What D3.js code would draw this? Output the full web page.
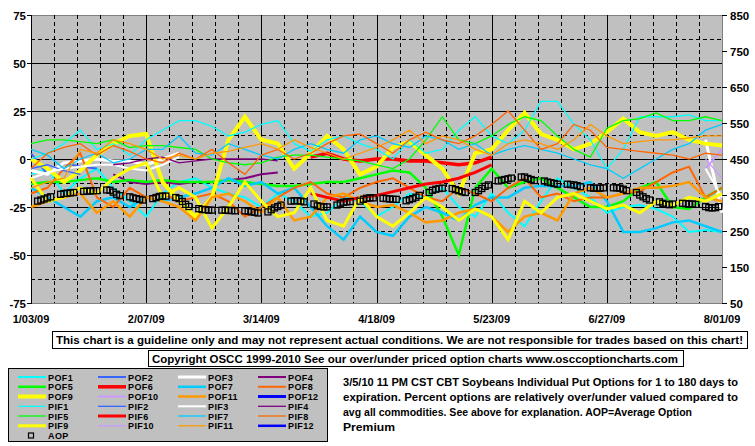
<!DOCTYPE html>
<html><head><meta charset="utf-8">
<script src="https://cdn.jsdelivr.net/npm/d3@7"></script>
<style>
body{margin:0;background:#fff}
svg{display:block}
text{font-family:"Liberation Sans",Arial,sans-serif;font-weight:bold;fill:#000}
</style>
</head><body>
<svg id="c" width="755" height="446"></svg>
<script>
// ---------- DATA ----------
const days = [0,5,10,15,20,25,30,35,40,45,50,55,60,65,70,75,80,85,90,95,100,105,110,115,120,125,130,135,140,145,150,155,160,165,170,175,180,185,190,195,200,205,210];
const xTickDays = [0,35,70,105,140,175,210];
const xTickLabels = ["1/03/09","2/07/09","3/14/09","4/18/09","5/23/09","6/27/09","8/01/09"];
const leftTicks = [75,50,25,0,-25,-50,-75];
const rightTicks = [850,750,650,550,450,350,250,150,50];
const N = null;

const POF1 = [-8,-5,-18,-10,-5,-15,-22,-30,-18,-12, -10,-15,-18,-20,-25,-18,-22,-30,-28,-20, -22,-30,-25,-18,-20,-15,-25,-30,-18,-28, -35,-22,-10,-15,-20,-28,-25,-24,-26,-30, -38,-37,-38];
const POF2 = [3,-8,-2,-4,-5];
const POF3 = [-6,-8,-2,-1,0,-1,-1,-3,0,3, N,N,N,N,N,N,N,N,N,N, N,N,N,N,N,N,N,N,N,N, N,N,N,N,N,N,N,N,N,N, N,10,-28];
const POF4 = [N,N,N,N,N,-8,-12,-13,-12,-13,-12,-12,-11,-10,-8,-7];
const POF5 = [-13,-12,-12,-11,-10,-12,-11,-12,-11,-12, -12,-12,-11,-12,-13,-14,-14,-13,-12,-12, -10,-8,-6,-7,-15,-30,-50,-15,-5,-15, -12,-10,-15,-20,-25,-25,-22,-15,-12,-25, -26,-20,-15];
const POF6 = [N,N,N,N,N,N,N,N,N,N, N,N,N,N,N,N,N,1,3,0, -1,0,0,-1,-1,-2,-3,-2,1];
const POF7 = [-15,-20,-25,-30,-22,-20,-25,-20,-22,-20, -18,-15,-10,-14,-12,-18,-15,-25,-35,-42, -30,-38,-40,-30,-25,-28,-32,-24,-20,-20, -15,-14,-14,-14,-12,-22,-38,-38,-36,-33, -32,-35,-38];
const POF8 = [-18,-15,-5,3,-20,-25,-15,-20,-18,-22, -20,-18,-22,-30,-25,-20,-15,-12,-18,-20, -15,-12,-10,-15,-20,-22,-15,-18,-22,-15, -10,-20,-18,-22,-20,-20,-18,-17,-12,-7, -4,-20,-15];
const POF9 = [0,-5,-12,-6,2,8,12,13,-12,-22, -30,-20,10,22,10,8,-5,3,12,5, -8,-4,6,9,2,-5,-18,3,5,15, 24,13,10,5,8,14,21,14,12,14, 10,8,7];
const POF10 = [N,N,N,N,N,N,N,N,N,N, N,N,N,N,N,N,N,N,N,N, N,N,N,N,N,N,N,N,N,N, N,N,N,N,N,N,N,N,N,N, N,-5,5];
const POF11 = [-25,-22,-20,-18,-28,-22,-30,-20,-22,-25, -32,-20,-18,-22,-28,-20,-32,-30,-20,-18, -22,-25,-24,-28,-33,-32,-28,-26,-30,-38, -30,-28,-32,-18,-15,-20,-18,-15,-15,-14, -12,-20,-22];
const POF12 = [];
const PIF1 = [0,3,8,15,5,8,2,10,15,20, 20,17,12,14,18,20,8,4,10,12, 8,5,0,10,3,5,15,22,12,8, 15,30,30,18,10,-5,5,22,22,22, 23,20,20];
const PIF2 = [-5,-3,-6,-8];
const PIF3 = [-10,-7,-5,-4,-3,-3,-5,-6,-3,1, N,N,N,N,N,N,N,N,N,N, N,N,N,N,N,N,N,N,N,N, N,N,N,N,N,N,N,N,N,N, N,-5,-20];
const PIF4 = [N,N,N,N,N,-3,-2,0,1,-2,-1,0,0,0,0,-1];
const PIF5 = [8,10,10,9,8,10,6,7,7,6, 5,0,-2,-3,-2,1,2,2,1,0, -1,-3,-5,0,10,22,10,8,12,18, 22,20,12,5,1,16,20,21,24,20, 20,22,20];
const PIF6 = [N,N,N,N,N,N,N,N,N,N, N,N,N,N,N,N,N,-18,-20,-22, -20,-19,-17,-15,-13,-12,-10,-7,-3];
const PIF7 = [5,2,-5,0,3,-2,0,5,5,12, 3,2,8,5,2,0,5,8,5,3, 10,12,8,6,12,10,5,8,2,5, 7,5,3,0,-3,-5,-10,-5,0,5, 8,15,18];
const PIF8 = [-5,3,6,8,2,7,4,0,-2,3, 0,5,-2,-8,2,5,0,3,8,12, 13,8,3,10,14,10,8,12,18,25, 15,5,8,18,15,6,5,4,3,2, 0,3,2];
const PIF9 = [-10,-22,-20,-15,-18,-10,-5,-2,-20,-15, -20,-36,-25,-12,-22,-30,-28,-15,-32,-35, -20,-30,-35,-28,-20,-25,-32,-26,-30,-42, -22,-28,-20,-18,-22,-26,-24,-28,-22,-24, -20,-22,-18];
const PIF10 = [N,N,N,N,N,N,N,N,N,N, N,N,N,N,N,N,N,N,N,N, N,N,N,N,N,N,N,N,N,N, N,N,N,N,N,N,N,N,N,N, N,0,-10];
const PIF11 = [-15,-12,-10,5,3,10,8,5,0,2, 0,3,4,6,8,5,10,6,3,0, 3,6,10,15,8,12,10,5,2,8, 10,8,5,10,18,12,8,9,10,10, 11,12,12];
const PIF12 = [];

// Average Option Premium (right axis), one value per trading day (Mon-Fri), 30 weeks
const AOP = [333,336,339,342,345, 352,354,355,356,357, 360,361,361,362,362, 364,363,358,352,348, 345,342,340,338,336,
             340,343,346,347,347, 343,340,332,324,318, 312,310,309,308,308, 308,308,307,307,306, 306,305,303,302,300,
             303,309,314,318,322, 333,334,334,333,331, 325,320,318,317,317, 322,327,330,331,332, 333,338,341,342,342,
             341,340,339,338,338, 334,337,340,344,349, 357,363,366,368,369, 368,365,362,359,357, 357,362,368,374,378,
             389,391,393,395,397, 400,400,396,393,390, 389,386,384,382,380, 380,379,378,376,373, 370,369,369,369,370,
             370,370,369,366,362, 357,350,345,340,336, 331,327,324,323,325, 327,326,325,325,324, 318,315,314,315,318];

const seriesNames = ["POF1","POF2","POF3","POF4","POF5","POF6","POF7","POF8","POF9","POF10","POF11","POF12",
                     "PIF1","PIF2","PIF3","PIF4","PIF5","PIF6","PIF7","PIF8","PIF9","PIF10","PIF11","PIF12"];
const seriesValues = [POF1,POF2,POF3,POF4,POF5,POF6,POF7,POF8,POF9,POF10,POF11,POF12,
                      PIF1,PIF2,PIF3,PIF4,PIF5,PIF6,PIF7,PIF8,PIF9,PIF10,PIF11,PIF12];

const infoLines = ["3/5/10 11 PM CST CBT Soybeans Individual Put Options for 1 to 180 days to",
                   "expiration. Percent options are relatively over/under valued compared to",
                   "avg all commodities. See above for explanation. AOP=Average Option",
                   "Premium"];

// ---------- STYLE ----------
const seriesColors = ["#00FFFF","#3366FF","#FFFFFF","#800080","#00FF00","#FF0000","#00CCFF","#FF6600","#FFFF00","#CC99FF","#FF9900","#0000FF",
                      "#00FFFF","#3366FF","#FFFFFF","#800080","#00FF00","#FF0000","#00CCFF","#FF6600","#FFFF00","#CC99FF","#FF9900","#0000FF"];
const seriesWidths = [2,2,3,2,2.5,3.5,2.5,2,4,2,2.5,3,
                      1.3,1.3,2,1.3,1.3,3,1.3,1.3,3,1.3,1.3,2.5];

const svg = d3.select("#c");
const L = 31, R = 722, T = 15, B = 303;
const x = d3.scaleLinear().domain([0,210]).range([L,R]);
const yL = d3.scaleLinear().domain([-75,75]).range([B,T]);
const yR = d3.scaleLinear().domain([50,850]).range([B,T]);

// plot background
svg.append("rect").attr("x",L).attr("y",T).attr("width",R-L).attr("height",B-T)
   .attr("fill","#C0C0C0").attr("stroke","#808080").attr("stroke-width",1).attr("shape-rendering","crispEdges");

const grid = svg.append("g").attr("shape-rendering","crispEdges");
d3.range(-62.5, 75, 12.5).forEach(v=>{
  const solid = Math.abs(v % 25) < 1e-9;
  grid.append("line").attr("x1",L).attr("x2",R).attr("y1",Math.round(yL(v))+0.5).attr("y2",Math.round(yL(v))+0.5)
    .attr("stroke","#000").attr("stroke-width",1).attr("stroke-dasharray", solid?null:"4,3");
});
d3.range(7, 210, 7).forEach(d=>{
  const solid = d % 35 === 0;
  grid.append("line").attr("y1",T).attr("y2",B).attr("x1",Math.round(x(d))+0.5).attr("x2",Math.round(x(d))+0.5)
    .attr("stroke","#000").attr("stroke-width",1).attr("stroke-dasharray", solid?null:"4,3");
});

// axes
const axes = svg.append("g").attr("shape-rendering","crispEdges");
axes.append("line").attr("x1",L+0.5).attr("x2",L+0.5).attr("y1",T).attr("y2",B+1).attr("stroke","#000").attr("stroke-width",1.5);
leftTicks.forEach(v=>{
  const yy = Math.round(yL(v))+0.5;
  axes.append("line").attr("x1",L-4).attr("x2",L).attr("y1",yy).attr("y2",yy).attr("stroke","#000");
  svg.append("text").attr("x",L-5).attr("y",yy+4).attr("text-anchor","end").attr("font-size","11.5px").text(v);
});
rightTicks.forEach(v=>{
  const yy = Math.round(yR(v))+0.5;
  axes.append("line").attr("x1",R).attr("x2",R+5).attr("y1",yy).attr("y2",yy).attr("stroke","#000");
  svg.append("text").attr("x",R+8).attr("y",yy+4).attr("text-anchor","start").attr("font-size","11.5px").text(v);
});
xTickDays.forEach((d,i)=>{
  svg.append("text").attr("x",x(d)).attr("y",323).attr("text-anchor","middle").attr("font-size","11px").text(xTickLabels[i]);
});

// series lines
const plot = svg.append("g");
const line = d3.line().defined(p=>p[1]!=null).x(p=>x(p[0])).y(p=>yL(p[1]));
seriesValues.forEach((vals,i)=>{
  const pts = vals.map((v,j)=>[days[j], v]);
  plot.append("path").attr("d", line(pts)).attr("fill","none")
    .attr("stroke",seriesColors[i]).attr("stroke-width",seriesWidths[i]).attr("stroke-linejoin","miter");
});

// AOP markers (trading days Mon-Fri from 1/05/09)
const aopDays = [];
for (let w=0; w<30; w++) for (let k=0; k<5; k++) aopDays.push(2 + 7*w + k);
plot.selectAll("rect.aop").data(AOP).enter().append("rect").attr("class","aop")
  .attr("x",(v,i)=>x(aopDays[i])-3).attr("y",v=>yR(v)-3).attr("width",6).attr("height",6)
  .attr("fill","none").attr("stroke","#000").attr("stroke-width",1.3);

// disclaimer boxes
const boxes = svg.append("g");
boxes.append("rect").attr("x",52.5).attr("y",331.5).attr("width",695).attr("height",17).attr("fill","#fff").attr("stroke","#000").attr("shape-rendering","crispEdges");
boxes.append("text").attr("x",56).attr("y",344).attr("font-size","11px").attr("textLength",687).attr("lengthAdjust","spacingAndGlyphs")
  .text("This chart is a guideline only and may not represent actual conditions. We are not responsible for trades based on this chart!");
boxes.append("rect").attr("x",148.5).attr("y",350.5).attr("width",535).attr("height",16).attr("fill","#fff").attr("stroke","#000").attr("shape-rendering","crispEdges");
boxes.append("text").attr("x",152).attr("y",362.5).attr("font-size","11px").attr("textLength",526).attr("lengthAdjust","spacingAndGlyphs")
  .text("Copyright OSCC 1999-2010 See our over/under priced option charts www.osccoptioncharts.com");

// legend
const lg = svg.append("g");
lg.append("rect").attr("x",8.5).attr("y",368.5).attr("width",319).attr("height",73).attr("fill","#C0C0C0").attr("stroke","#000").attr("stroke-width",1.2).attr("shape-rendering","crispEdges");
const colX = [18,98,178,258];
const rowY = [377,386.8,396.5,406.3,416,425.8,435.5];
seriesNames.forEach((name,i)=>{
  const row = Math.floor(i/4), col = i%4;
  const yy = rowY[row], xx = colX[col];
  lg.append("line").attr("x1",xx).attr("x2",xx+28).attr("y1",yy).attr("y2",yy)
    .attr("stroke",seriesColors[i]).attr("stroke-width",seriesWidths[i]);
  lg.append("text").attr("x",xx+30).attr("y",yy+3.5).attr("font-size","9px").attr("letter-spacing","0.4px").text(name);
});
lg.append("rect").attr("x",28.5).attr("y",rowY[6]-2.5).attr("width",5).attr("height",5).attr("fill","none").attr("stroke","#000").attr("stroke-width",1.2);
lg.append("text").attr("x",48).attr("y",rowY[6]+3.5).attr("font-size","9px").attr("letter-spacing","0.4px").text("AOP");

// info text
const infoLen = [395,395,349,52];
infoLines.forEach((t,i)=>{
  svg.append("text").attr("x",343).attr("y",386+15*i).attr("font-size","11.5px")
    .attr("textLength",infoLen[i]).attr("lengthAdjust","spacingAndGlyphs").text(t);
});
</script>
</body></html>
